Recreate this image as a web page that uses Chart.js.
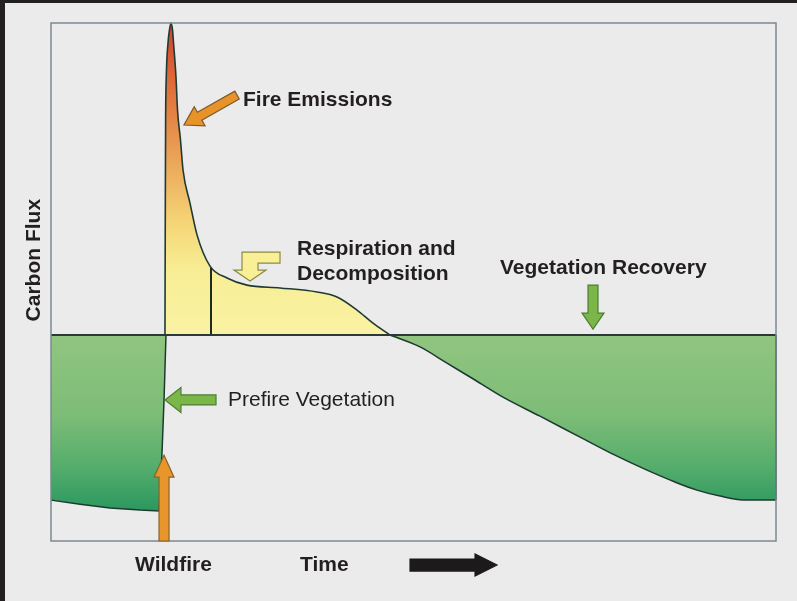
<!DOCTYPE html>
<html>
<head>
<meta charset="utf-8">
<script src="https://cdn.jsdelivr.net/npm/chart.js@4.4.1/dist/chart.umd.min.js"></script>
<style>
  html, body { margin: 0; padding: 0; background: #ebebeb; }
  #wrap { position: relative; width: 797px; height: 601px; overflow: hidden; }
  .edge { position: absolute; background: #231f20; }
</style>
</head>
<body>
<div id="wrap">
  <canvas id="flux" width="797" height="601"></canvas>
  <div class="edge" style="left:0;top:0;width:5px;height:601px"></div>
  <div class="edge" style="left:0;top:0;width:797px;height:3px"></div>
</div>
<script>
// time runs 0..100, carbon flux in arbitrary units (positive = emission to air)
const fireTime = [15.72, 15.77, 15.81, 15.9, 16.14, 16.34, 16.55, 16.76, 16.9, 17.24, 17.45, 17.86, 18.21, 19.17, 20.14, 21.93, 24.28, 27.03, 31.59, 36.69, 39.45, 42.21, 44.41, 46.76];
const fireFlux = [0, 4.33, 6.89, 8.27, 9.36, 9.78, 10, 9.78, 9.36, 8.27, 7.21, 6.25, 5.29, 4.23, 3.21, 2.21, 1.83, 1.6, 1.51, 1.38, 1.22, 0.8, 0.38, 0];

const prefireTime = [0, 4, 8.14, 12.28, 14.9, 15.31, 15.59, 15.86];
const prefireFlux = [-5.29, -5.42, -5.54, -5.61, -5.64, -3.78, -2.08, 0];

const recoveryTime = [46.76, 50.9, 54.62, 58.48, 62.34, 67.45, 72.97, 77.79, 82.21, 86.07, 89.1, 92.28, 96, 100];
const recoveryFlux = [0, -0.38, -0.9, -1.44, -1.99, -2.6, -3.27, -3.85, -4.33, -4.71, -4.97, -5.16, -5.29, -5.29];

const decompStart = 22.07;
const decompStartFlux = 2.15;

const zip = (xs, ys) => xs.map((x, i) => ({ x: x, y: ys[i] }));

// labels and arrows, placed in data units
const labels = [
  { text: 'Fire Emissions', x: 26.48, y: 7.53, bold: true },
  { text: 'Respiration and', x: 33.93, y: 2.76, bold: true },
  { text: 'Decomposition', x: 33.93, y: 1.96, bold: true },
  { text: 'Vegetation Recovery', x: 61.93, y: 2.15, bold: true },
  { text: 'Prefire Vegetation', x: 24.41, y: -2.08, bold: false },
  { text: 'Wildfire', x: 11.59, y: -7.37, bold: true },
  { text: 'Time', x: 34.34, y: -7.37, bold: true }
];
const arrows = [
  { from: [25.66, 7.69], to: [18.34, 6.73], shaft: 9, head: 22, headLen: 18, fill: '#e8922a', line: '#7a5a2a' },
  { from: [22.76, -2.08], to: [15.72, -2.08], shaft: 10, head: 25, headLen: 16, fill: '#7ab648', line: '#4f7d36' },
  { from: [15.59, -6.6], to: [15.59, -3.85], shaft: 10, head: 20, headLen: 22, fill: '#e8952b', line: '#8a6428' },
  { from: [74.76, 1.6], to: [74.76, 0.19], shaft: 10, head: 22, headLen: 16, fill: '#7ab648', line: '#4f7d36' },
  { from: [49.52, -7.37], to: [61.52, -7.37], shaft: 12, head: 22, headLen: 22, fill: '#1c1a1b', line: '#1c1a1b' }
];
const bentArrowTip = [27.45, 1.73];

function fireGradient(context) {
  const chart = context.chart;
  const area = chart.chartArea;
  if (!area) return '#f8ee96';
  const y = chart.scales.y;
  const g = chart.ctx.createLinearGradient(0, y.getPixelForValue(10), 0, y.getPixelForValue(0));
  g.addColorStop(0, '#d2402a');
  g.addColorStop(0.25, '#e2793e');
  g.addColorStop(0.45, '#eca85a');
  g.addColorStop(0.65, '#f5d778');
  g.addColorStop(0.8, '#f8ee96');
  g.addColorStop(1, '#faf2a4');
  return g;
}

function greenGradient(context) {
  const chart = context.chart;
  const area = chart.chartArea;
  if (!area) return '#6db672';
  const y = chart.scales.y;
  const g = chart.ctx.createLinearGradient(0, y.getPixelForValue(0), 0, y.getPixelForValue(-5.64));
  g.addColorStop(0, '#91c580');
  g.addColorStop(0.45, '#7dbd77');
  g.addColorStop(0.75, '#55ad6c');
  g.addColorStop(1, '#2a985f');
  return g;
}

function drawArrow(c, x1, y1, x2, y2, a) {
  const ang = Math.atan2(y2 - y1, x2 - x1);
  const len = Math.hypot(x2 - x1, y2 - y1);
  c.save();
  c.translate(x1, y1);
  c.rotate(ang);
  c.beginPath();
  c.moveTo(0, -a.shaft / 2);
  c.lineTo(len - a.headLen, -a.shaft / 2);
  c.lineTo(len - a.headLen, -a.head / 2);
  c.lineTo(len, 0);
  c.lineTo(len - a.headLen, a.head / 2);
  c.lineTo(len - a.headLen, a.shaft / 2);
  c.lineTo(0, a.shaft / 2);
  c.closePath();
  c.fillStyle = a.fill;
  c.fill();
  c.lineWidth = 1.2;
  c.strokeStyle = a.line;
  c.stroke();
  c.restore();
}

const notes = {
  id: 'notes',
  beforeDraw(chart) {
    const c = chart.ctx;
    c.save();
    c.fillStyle = '#ebebeb';
    c.fillRect(0, 0, chart.width, chart.height);
    c.restore();
  },
  afterDraw(chart) {
    const c = chart.ctx;
    const a = chart.chartArea;
    const xs = chart.scales.x, ys = chart.scales.y;
    const px = v => xs.getPixelForValue(v), py = v => ys.getPixelForValue(v);

    c.save();
    c.strokeStyle = '#7c8a90';
    c.lineWidth = 1.5;
    c.strokeRect(a.left, a.top, a.right - a.left, a.bottom - a.top);

    arrows.forEach(ar => drawArrow(c, px(ar.from[0]), py(ar.from[1]), px(ar.to[0]), py(ar.to[1]), ar));

    // bent arrow pointing down at the decomposition tail
    const tx = px(bentArrowTip[0]), ty = py(bentArrowTip[1]);
    const pts = [[-8, -29], [30, -29], [30, -18], [8, -18], [8, -11], [16, -11], [0, 0], [-16, -11], [-8, -11]];
    c.beginPath();
    pts.forEach((p, i) => i ? c.lineTo(tx + p[0], ty + p[1]) : c.moveTo(tx + p[0], ty + p[1]));
    c.closePath();
    c.fillStyle = '#f8ef96';
    c.fill();
    c.lineWidth = 1.2;
    c.strokeStyle = '#8c8a45';
    c.stroke();

    c.fillStyle = '#231f20';
    c.textBaseline = 'middle';
    c.textAlign = 'left';
    labels.forEach(l => {
      c.font = (l.bold ? 'bold ' : '') + '21px "Liberation Sans", Arial, sans-serif';
      c.fillText(l.text, px(l.x), py(l.y));
    });

    c.translate(px(-2.34), py(2.4));
    c.rotate(-Math.PI / 2);
    c.textAlign = 'center';
    c.font = 'bold 21px "Liberation Sans", Arial, sans-serif';
    c.fillText('Carbon Flux', 0, 0);
    c.restore();
  }
};

new Chart(document.getElementById('flux'), {
  type: 'line',
  data: {
    datasets: [
      {
        label: 'Zero',
        data: [{ x: 0, y: 0 }, { x: 100, y: 0 }],
        borderColor: '#2b3a36',
        borderWidth: 2,
        pointRadius: 0,
        fill: false
      },
      {
        label: 'Decomposition start',
        data: [{ x: decompStart, y: 0 }, { x: decompStart, y: decompStartFlux }],
        borderColor: '#1d2a26',
        borderWidth: 2,
        pointRadius: 0,
        fill: false
      },
      {
        label: 'Recovery edge',
        data: [{ x: 100, y: recoveryFlux[recoveryFlux.length - 1] }, { x: 100, y: 0 }],
        borderColor: '#1d3a30',
        borderWidth: 1.5,
        pointRadius: 0,
        fill: false
      },
      {
        label: 'Fire emissions',
        data: zip(fireTime, fireFlux),
        borderColor: '#1f3a33',
        borderWidth: 1.6,
        backgroundColor: fireGradient,
        fill: 'origin',
        cubicInterpolationMode: 'monotone',
        pointRadius: 0
      },
      {
        label: 'Prefire vegetation',
        data: zip(prefireTime, prefireFlux),
        borderColor: '#1d3a30',
        borderWidth: 1.5,
        backgroundColor: greenGradient,
        fill: 'origin',
        tension: 0,
        pointRadius: 0
      },
      {
        label: 'Vegetation recovery',
        data: zip(recoveryTime, recoveryFlux),
        borderColor: '#1d3a30',
        borderWidth: 1.5,
        backgroundColor: greenGradient,
        fill: 'origin',
        cubicInterpolationMode: 'monotone',
        pointRadius: 0
      }
    ]
  },
  options: {
    responsive: false,
    animation: false,
    clip: false,
    layout: { padding: { left: 51, top: 23, right: 21, bottom: 60 } },
    plugins: { legend: { display: false }, tooltip: { enabled: false } },
    scales: {
      x: { type: 'linear', min: 0, max: 100, display: false },
      y: { type: 'linear', min: -6.6, max: 10, display: false }
    }
  },
  plugins: [notes]
});
</script>
</body>
</html>
